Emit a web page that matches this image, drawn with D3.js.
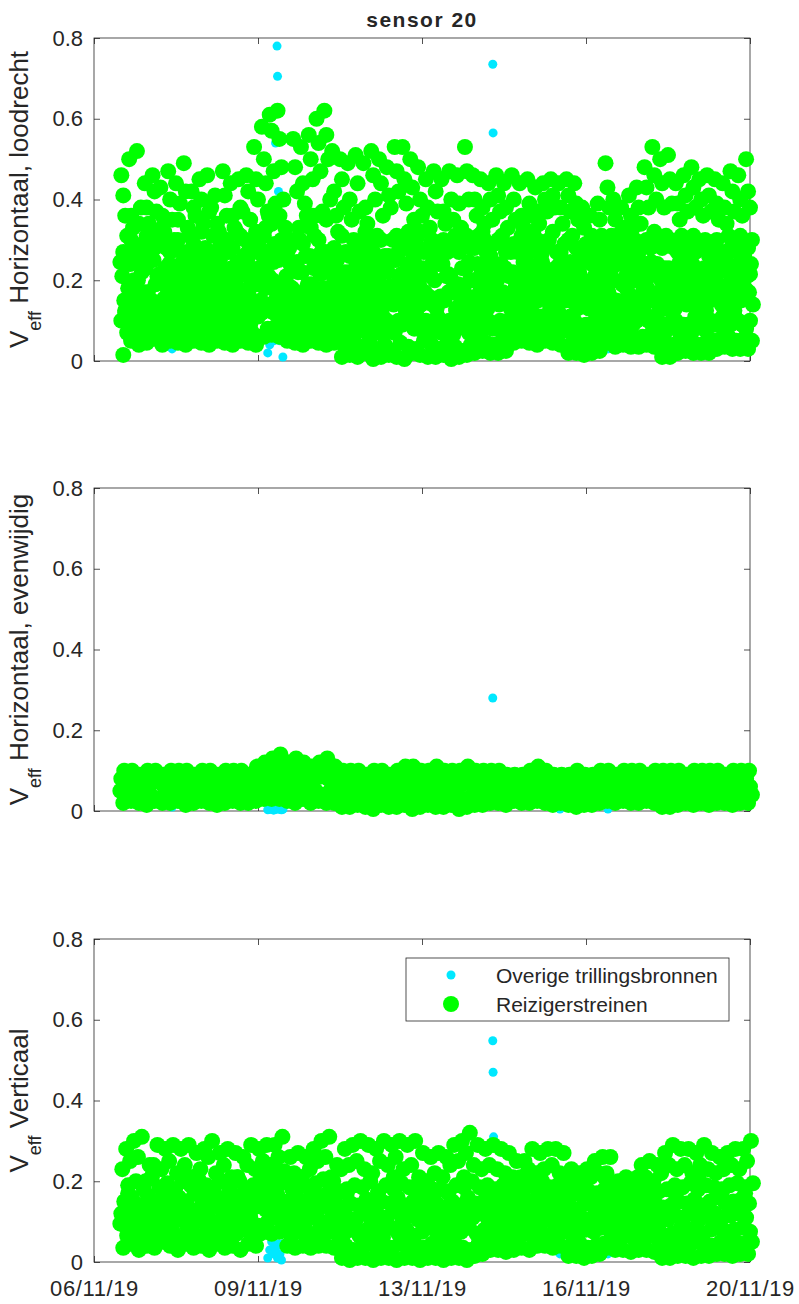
<!DOCTYPE html>
<html>
<head>
<meta charset="utf-8">
<script src="https://cdn.jsdelivr.net/npm/d3@7"></script>
<style>
  body { margin: 0; background: #fff; }
  text { font-family: "Liberation Sans", Arial, sans-serif; fill: #262626; }
</style>
</head>
<body>
<div id="chart"></div>
<script>
// x-as: 06/11/19 t/m 20/11/19, ticks om de 3,5 dag
const xStart = "2019-11-06 00:00";
const xEnd = "2019-11-20 00:00";
const xTicks = ["2019-11-06 00:00", "2019-11-09 12:00", "2019-11-13 00:00", "2019-11-16 12:00", "2019-11-20 00:00"];
const yTicks = [0, 0.2, 0.4, 0.6, 0.8];

// reizigerstreinen: per reeks een passage per blok van 4 uur, vanaf 06/11 15:00 (81 blokken)
const firstSample = "2019-11-06 15:00";
const sampleStepHours = 4;
const sampleCount = 81;

// Horizontaal, loodrecht (van laag naar hoog)
const loodrecht01 = [
  .015,.05,.04,.045,.055,.04,.05,.045,.04,.05,
  .045,.04,.05,.045,.04,.05,.045,.04,.06,.065,
  .06,.05,.045,.04,.05,.045,.04,.045,.01,.015,
  .01,.02,.005,.01,.015,.01,.005,.02,.015,.01,
  .01,.015,.005,.01,.015,.02,.025,.02,.02,.025,
  .045,.05,.045,.04,.05,.045,.04,.02,.02,.015,
  .02,.025,.045,.035,.04,.035,.035,.04,.035,.01,
  .01,.02,.025,.02,.02,.02,.03,.035,.03,.03,
  .03];
const loodrecht02 = [
  .07,.06,.08,.065,.07,.08,.06,.075,.07,.065,
  .08,.06,.07,.075,.065,.08,.07,.06,.08,.085,
  .08,.07,.065,.075,.08,.07,.065,.075,.03,.045,
  .035,.05,.03,.04,.025,.045,.035,.03,.05,.04,
  .03,.045,.035,.025,.04,.05,.045,.04,.05,.045,
  .07,.065,.075,.07,.065,.07,.075,.045,.04,.05,
  .045,.05,.07,.06,.065,.055,.06,.065,.06,.035,
  .04,.045,.05,.04,.045,.05,.055,.06,.05,.055,
  .05];
const loodrecht03 = [
  .10,.12,.09,.11,.13,.10,.12,.09,.11,.12,
  .09,.11,.13,.10,.12,.09,.11,.13,.12,.14,
  .13,.10,.12,.11,.13,.10,.12,.11,.08,.10,
  .07,.09,.11,.08,.10,.07,.09,.11,.08,.10,
  .09,.07,.10,.08,.11,.09,.07,.10,.08,.09,
  .11,.09,.12,.10,.11,.09,.12,.08,.10,.07,
  .09,.08,.11,.10,.09,.11,.10,.12,.09,.07,
  .08,.10,.09,.07,.10,.08,.09,.11,.09,.10,
  .08];
const loodrecht04 = [
  .12,.09,.11,.13,.10,.12,.09,.11,.13,.10,
  .12,.10,.09,.12,.10,.13,.09,.11,.14,.12,
  .11,.13,.10,.12,.09,.12,.10,.13,.11,.08,
  .10,.07,.09,.11,.08,.10,.12,.08,.10,.07,
  .11,.09,.08,.10,.07,.09,.11,.08,.10,.07,
  .09,.12,.10,.11,.09,.12,.10,.11,.07,.09,
  .08,.10,.09,.12,.10,.09,.12,.10,.11,.09,
  .10,.07,.09,.11,.08,.10,.09,.08,.11,.09,
  .10];
const loodrecht05 = [
  .15,.18,.14,.17,.19,.15,.17,.14,.18,.16,
  .14,.17,.19,.15,.18,.14,.16,.19,.18,.20,
  .19,.15,.17,.16,.19,.14,.18,.16,.13,.15,
  .17,.14,.16,.13,.18,.15,.13,.17,.14,.16,
  .13,.15,.17,.14,.16,.13,.15,.17,.14,.16,
  .16,.14,.18,.15,.17,.14,.18,.15,.13,.16,
  .14,.13,.17,.15,.14,.16,.15,.18,.16,.13,
  .15,.17,.14,.16,.13,.15,.17,.14,.16,.15,
  .17];
const loodrecht06 = [
  .18,.14,.17,.15,.13,.18,.15,.17,.14,.19,
  .17,.15,.14,.18,.15,.17,.19,.15,.21,.17,
  .16,.18,.14,.19,.16,.18,.15,.19,.16,.13,
  .14,.17,.13,.16,.14,.17,.16,.13,.17,.14,
  .16,.17,.13,.16,.14,.17,.13,.15,.17,.13,
  .14,.17,.15,.18,.14,.16,.15,.17,.16,.13,
  .17,.15,.14,.13,.17,.14,.18,.15,.17,.16,
  .13,.15,.17,.14,.17,.16,.14,.17,.15,.18,
  .14];
const loodrecht07 = [
  .21,.24,.20,.23,.25,.21,.24,.20,.23,.22,
  .20,.24,.22,.19,.23,.21,.25,.22,.26,.27,
  .25,.21,.24,.22,.26,.23,.27,.21,.19,.22,
  .24,.20,.23,.19,.22,.25,.20,.23,.19,.22,
  .20,.24,.21,.19,.23,.20,.22,.24,.20,.23,
  .22,.19,.24,.21,.23,.20,.24,.21,.19,.20,
  .19,.21,.23,.20,.19,.22,.21,.24,.22,.20,
  .23,.20,.22,.24,.19,.22,.21,.23,.20,.24,
  .21];
const loodrecht08 = [
  .24,.20,.22,.25,.21,.23,.19,.24,.21,.25,
  .23,.20,.25,.22,.19,.24,.21,.23,.24,.29,
  .28,.24,.22,.26,.23,.27,.24,.25,.22,.20,
  .21,.24,.19,.23,.25,.21,.24,.20,.23,.21,
  .24,.21,.19,.23,.20,.24,.19,.22,.24,.21,
  .20,.23,.21,.24,.20,.23,.21,.24,.22,.19,
  .21,.20,.22,.24,.21,.20,.23,.21,.24,.23,
  .21,.24,.20,.22,.23,.20,.24,.22,.23,.21,
  .24];
const loodrecht09 = [
  .27,.30,.26,.31,.28,.33,.27,.30,.25,.29,
  .32,.27,.25,.30,.28,.31,.27,.32,.31,.34,
  .36,.27,.30,.29,.33,.30,.35,.28,.31,.26,
  .29,.32,.27,.30,.26,.31,.29,.27,.32,.28,
  .26,.30,.28,.27,.31,.28,.32,.26,.30,.27,
  .29,.31,.27,.30,.28,.32,.27,.30,.28,.25,
  .24,.27,.29,.26,.25,.28,.27,.30,.32,.28,
  .30,.27,.29,.31,.28,.26,.30,.27,.29,.31,
  .28];
const loodrecht10 = [
  .31,.27,.29,.26,.32,.28,.30,.27,.31,.26,
  .28,.31,.29,.27,.32,.26,.30,.28,.37,.39,
  .40,.30,.33,.36,.31,.37,.40,.32,.27,.30,
  .27,.29,.31,.26,.30,.28,.32,.30,.27,.30,
  .29,.27,.31,.30,.28,.31,.27,.29,.31,.28,
  .27,.29,.32,.26,.30,.27,.29,.31,.26,.28,
  .27,.25,.31,.28,.27,.30,.29,.28,.30,.31,
  .28,.31,.27,.29,.30,.28,.27,.31,.28,.26,
  .30];
const loodrecht11 = [
  .36,.33,.38,.34,.37,.32,.35,.39,.33,.36,
  .34,.38,.32,.36,.33,.37,.35,.40,.44,.47,
  .48,.28,.42,.39,.45,.47,.50,.36,.38,.35,
  .37,.34,.40,.36,.38,.42,.39,.35,.36,.33,
  .37,.34,.35,.33,.40,.36,.34,.35,.37,.33,
  .35,.33,.36,.34,.37,.38,.34,.37,.35,.29,
  .28,.31,.38,.31,.30,.33,.34,.38,.40,.38,
  .39,.35,.37,.38,.36,.37,.35,.34,.37,.36,
  .38];
const loodrecht12 = [
  .41,.36,.34,.38,.42,.36,.40,.35,.42,.38,
  .40,.37,.34,.41,.36,.38,.42,.45,.50,.57,
  .55,.30,.48,.44,.50,.54,.56,.42,.45,.40,
  .44,.38,.46,.44,.41,.47,.45,.43,.40,.38,
  .42,.37,.40,.39,.47,.40,.38,.40,.41,.38,
  .40,.36,.39,.37,.40,.41,.38,.41,.39,.33,
  .31,.35,.43,.35,.33,.36,.38,.43,.46,.44,
  .45,.39,.41,.43,.40,.41,.39,.38,.42,.40,
  .42];
const loodrecht13 = [
  .46,.50,.52,.44,.46,.43,.47,.44,.49,.42,
  .45,.46,.41,.47,.44,.45,.46,.53,.58,.61,
  .62,.33,.55,.53,.56,.60,.62,.52,.50,.49,
  .51,.49,.52,.50,.48,.53,.53,.50,.48,.45,
  .47,.45,.47,.46,.53,.46,.45,.44,.46,.44,
  .46,.44,.45,.43,.44,.45,.44,.45,.44,.38,
  .36,.39,.49,.40,.38,.41,.43,.48,.53,.50,
  .51,.44,.46,.48,.45,.46,.45,.44,.47,.46,
  .50];
const loodrecht14 = [
  .125,.185,.245,.09,.30,.155,.215,.125,.27,.185,
  .245,.09,.155,.30,.215,.125,.185,.27,.33,.245,
  .30,.185,.245,.09,.36,.215,.155,.27,.065,.185,
  .245,.125,.215,.065,.185,.27,.125,.245,.09,.215,
  .155,.27,.065,.185,.245,.125,.30,.09,.215,.155,
  .185,.245,.125,.27,.09,.215,.155,.245,.065,.185,
  .125,.215,.27,.09,.185,.245,.155,.30,.215,.065,
  .125,.245,.185,.27,.09,.215,.155,.245,.125,.185,
  .215];
const loodrecht15 = [
  .245,.09,.155,.27,.125,.215,.30,.185,.09,.245,
  .125,.215,.27,.155,.09,.245,.30,.125,.215,.36,
  .155,.27,.09,.30,.185,.36,.245,.125,.215,.09,
  .125,.185,.065,.245,.155,.09,.215,.185,.27,.065,
  .245,.09,.215,.125,.185,.065,.155,.245,.185,.09,
  .27,.125,.215,.155,.245,.125,.185,.09,.215,.27,
  .09,.155,.185,.245,.125,.09,.215,.155,.245,.125,
  .185,.09,.27,.155,.215,.125,.245,.185,.09,.27,
  .155];

// Horizontaal, evenwijdig
const evenwijdig01 = [
  .02,.025,.02,.015,.025,.02,.02,.025,.015,.02,
  .025,.02,.015,.02,.025,.02,.02,.025,.03,.03,
  .03,.025,.02,.03,.02,.025,.02,.02,.01,.01,
  .015,.01,.005,.015,.01,.01,.015,.005,.01,.015,
  .01,.01,.015,.005,.01,.015,.015,.02,.02,.015,
  .025,.02,.02,.025,.02,.015,.02,.015,.01,.015,
  .015,.02,.025,.02,.025,.02,.02,.025,.02,.01,
  .01,.015,.02,.015,.02,.015,.02,.02,.015,.02,
  .02];
const evenwijdig02 = [
  .04,.035,.05,.04,.03,.045,.04,.035,.05,.04,
  .035,.045,.04,.03,.045,.04,.035,.05,.055,.06,
  .06,.05,.055,.045,.05,.04,.05,.045,.03,.035,
  .03,.04,.025,.035,.03,.04,.035,.03,.04,.035,
  .03,.035,.04,.03,.035,.04,.03,.035,.04,.035,
  .045,.04,.035,.045,.04,.035,.04,.035,.03,.04,
  .035,.04,.045,.04,.035,.045,.04,.035,.04,.03,
  .035,.04,.03,.04,.035,.04,.045,.035,.04,.035,
  .04];
const evenwijdig03 = [
  .06,.07,.055,.065,.075,.06,.07,.055,.065,.07,
  .06,.055,.07,.065,.06,.075,.055,.07,.08,.09,
  .095,.08,.085,.08,.075,.085,.08,.07,.06,.055,
  .065,.06,.07,.055,.06,.065,.07,.06,.055,.065,
  .07,.06,.055,.065,.07,.06,.065,.055,.06,.065,
  .055,.06,.065,.07,.06,.055,.06,.065,.055,.06,
  .06,.065,.07,.06,.065,.06,.07,.065,.06,.055,
  .065,.06,.055,.065,.07,.06,.065,.06,.055,.065,
  .06];
const evenwijdig04 = [
  .08,.085,.075,.09,.08,.075,.085,.08,.09,.075,
  .085,.08,.075,.09,.085,.08,.075,.095,.10,.11,
  .12,.10,.11,.105,.095,.10,.11,.09,.08,.085,
  .08,.075,.085,.08,.075,.085,.09,.085,.08,.08,
  .09,.085,.08,.08,.09,.085,.08,.08,.085,.075,
  .075,.08,.085,.09,.08,.075,.08,.075,.085,.075,
  .08,.085,.08,.075,.085,.08,.085,.075,.08,.085,
  .08,.085,.075,.08,.085,.08,.085,.08,.075,.085,
  .08];
const evenwijdig05 = [
  .10,.10,.09,.10,.10,.09,.10,.10,.10,.09,
  .10,.10,.09,.10,.10,.10,.09,.11,.12,.13,
  .14,.12,.13,.12,.11,.12,.13,.11,.10,.10,
  .10,.09,.10,.10,.09,.10,.11,.11,.10,.10,
  .11,.10,.10,.10,.11,.10,.10,.10,.10,.09,
  .09,.09,.10,.11,.10,.09,.09,.09,.10,.09,
  .09,.10,.10,.09,.10,.10,.10,.09,.10,.10,
  .10,.10,.09,.10,.10,.10,.10,.09,.10,.10,
  .10];
const evenwijdig06 = [
  .05,.07,.03,.05,.07,.03,.07,.05,.03,.07,
  .05,.03,.07,.05,.03,.07,.05,.07,.09,.07,
  .10,.07,.09,.05,.07,.05,.09,.05,.03,.05,
  .07,.03,.05,.07,.03,.05,.03,.07,.05,.03,
  .05,.07,.03,.05,.07,.03,.05,.07,.03,.05,
  .07,.03,.05,.07,.05,.03,.07,.05,.03,.05,
  .07,.05,.03,.07,.05,.03,.05,.07,.03,.05,
  .07,.03,.05,.07,.03,.05,.07,.05,.03,.07,
  .05];

// Verticaal
const verticaal01 = [
  .035,.045,.03,.04,.035,.05,.04,.03,.045,.035,
  .04,.03,.045,.035,.04,.03,.045,.04,.075,.07,
  .075,.04,.035,.04,.035,.04,.04,.035,.01,.005,
  .01,.01,.005,.01,.01,.005,.01,.01,.005,.01,
  .01,.005,.01,.01,.005,.015,.02,.03,.03,.025,
  .03,.035,.03,.04,.04,.035,.04,.015,.015,.01,
  .015,.02,.035,.03,.03,.025,.03,.03,.025,.01,
  .01,.015,.015,.01,.015,.015,.02,.02,.015,.02,
  .02];
const verticaal02 = [
  .065,.075,.06,.07,.08,.065,.07,.06,.075,.065,
  .07,.06,.075,.065,.07,.08,.06,.07,.10,.11,
  .10,.065,.075,.06,.07,.065,.075,.07,.04,.03,
  .035,.045,.03,.04,.035,.045,.03,.04,.035,.045,
  .04,.03,.045,.035,.03,.045,.05,.055,.06,.05,
  .065,.07,.06,.075,.065,.07,.075,.04,.045,.035,
  .04,.045,.07,.06,.065,.055,.06,.065,.055,.035,
  .04,.045,.04,.05,.045,.04,.05,.045,.05,.045,
  .05];
const verticaal03 = [
  .09,.11,.085,.10,.095,.11,.09,.105,.085,.10,
  .11,.09,.10,.085,.105,.095,.11,.09,.13,.14,
  .135,.09,.105,.095,.11,.085,.10,.11,.07,.08,
  .065,.08,.075,.06,.085,.07,.08,.065,.075,.085,
  .07,.08,.065,.075,.085,.07,.08,.085,.09,.08,
  .095,.11,.09,.10,.105,.09,.11,.075,.07,.08,
  .075,.085,.10,.09,.095,.085,.09,.10,.085,.065,
  .07,.08,.075,.085,.07,.08,.085,.075,.08,.085,
  .075];
const verticaal04 = [
  .12,.13,.11,.14,.12,.13,.115,.135,.12,.125,
  .13,.115,.14,.12,.125,.13,.11,.135,.16,.17,
  .165,.12,.135,.125,.13,.115,.14,.12,.10,.11,
  .105,.12,.10,.115,.11,.125,.10,.115,.105,.12,
  .11,.10,.12,.105,.115,.11,.12,.105,.115,.11,
  .125,.135,.12,.13,.125,.12,.135,.105,.10,.11,
  .105,.115,.13,.12,.125,.115,.12,.13,.115,.10,
  .105,.115,.11,.12,.105,.115,.12,.11,.115,.12,
  .11];
const verticaal05 = [
  .15,.16,.14,.165,.15,.155,.145,.16,.15,.17,
  .155,.145,.16,.15,.165,.14,.155,.16,.19,.20,
  .195,.15,.165,.15,.16,.145,.17,.15,.135,.145,
  .14,.155,.135,.15,.145,.16,.14,.15,.135,.155,
  .145,.135,.15,.14,.16,.145,.15,.14,.155,.145,
  .155,.16,.15,.165,.155,.15,.16,.14,.13,.145,
  .14,.15,.16,.145,.155,.14,.15,.16,.145,.135,
  .14,.15,.145,.155,.14,.15,.16,.145,.15,.155,
  .145];
const verticaal06 = [
  .19,.20,.18,.21,.185,.195,.18,.20,.19,.205,
  .19,.185,.20,.18,.21,.175,.19,.20,.22,.23,
  .225,.18,.20,.185,.195,.205,.21,.175,.18,.19,
  .185,.20,.175,.19,.18,.195,.185,.19,.175,.18,
  .18,.175,.19,.185,.20,.185,.19,.18,.19,.185,
  .18,.185,.19,.20,.185,.19,.195,.17,.165,.175,
  .17,.18,.19,.165,.175,.165,.18,.185,.175,.18,
  .19,.185,.195,.18,.19,.185,.18,.19,.195,.185,
  .195];
const verticaal07 = [
  .23,.25,.26,.20,.24,.23,.25,.22,.24,.21,
  .23,.26,.22,.24,.21,.20,.24,.23,.25,.24,
  .26,.21,.22,.21,.23,.25,.26,.20,.23,.24,
  .25,.23,.22,.25,.24,.26,.23,.24,.21,.20,
  .22,.21,.24,.25,.27,.24,.23,.24,.23,.22,
  .21,.21,.23,.22,.23,.24,.22,.20,.19,.20,
  .21,.22,.22,.18,.19,.18,.21,.21,.20,.22,
  .24,.23,.24,.22,.24,.23,.22,.23,.24,.23,
  .25];
const verticaal08 = [
  .28,.30,.31,.24,.29,.28,.29,.28,.29,.27,
  .28,.30,.27,.28,.27,.26,.29,.28,.29,.29,
  .31,.26,.27,.26,.28,.30,.31,.24,.28,.29,
  .30,.29,.28,.30,.29,.30,.29,.30,.27,.26,
  .27,.26,.29,.30,.32,.29,.28,.29,.28,.27,
  .25,.25,.28,.27,.28,.28,.27,.23,.22,.23,
  .25,.26,.26,.20,.21,.20,.24,.25,.24,.27,
  .29,.28,.28,.27,.29,.27,.26,.27,.28,.28,
  .30];
const verticaal09 = [
  .095,.17,.05,.13,.21,.095,.17,.13,.05,.21,
  .13,.095,.17,.05,.13,.21,.095,.17,.21,.13,
  .17,.095,.13,.21,.05,.17,.095,.13,.05,.17,
  .095,.13,.05,.17,.095,.21,.13,.05,.17,.095,
  .13,.05,.17,.095,.21,.13,.05,.17,.095,.13,
  .17,.095,.21,.13,.05,.17,.095,.13,.05,.17,
  .095,.13,.21,.05,.17,.095,.13,.05,.17,.095,
  .13,.17,.095,.05,.21,.13,.095,.17,.05,.13,
  .17];

// tijdsverschuiving (uren) van elke reeks binnen een blok
const loodrechtShift = [0, 2, -1, 1, 0.5, 2.5, -0.5, 1.5, 0, 2, 1, 0, -1, 1, -1.5];
const evenwijdigShift = [0, 2, 1, -1, 0.5, -1.5];
const verticaalShift = [0, 2, 1, -1, 0.5, 2.5, -0.5, 1.5, -1.5];

// overige trillingsbronnen
const overigeTijden = [
  "2019-11-07 16:00", "2019-11-09 17:00", "2019-11-09 18:00", "2019-11-09 19:00",
  "2019-11-09 20:00", "2019-11-09 21:00", "2019-11-09 21:45", "2019-11-09 22:00",
  "2019-11-09 22:30", "2019-11-09 23:15", "2019-11-10 00:00", "2019-11-10 00:45",
  "2019-11-14 12:15", "2019-11-14 12:25", "2019-11-14 12:40", "2019-11-15 22:40",
  "2019-11-16 23:15"];
const overigeLoodrecht = [.03, .02, .04, .28, .05, .54, .78, .705, .42, .05, .14, .01, .735, .565, .46, .10, .03];
const overigeEvenwijdig = [.01, .003, .004, .005, .002, .004, .01, .005, .006, .004, .003, .004, .28, .03, .02, .005, .005];
const overigeVerticaal = [.05, .01, .03, .05, .02, .035, .04, .01, .045, .02, .005, .045, .548, .47, .31, .02, .02];

const width = 799, height = 1304;
const left = 94, right = 750, panelHeight = 323;
const green = "#00ff00", cyan = "#00e8ff", axisColor = "#262626";

const svg = d3.select("#chart").append("svg")
    .attr("width", width)
    .attr("height", height);

svg.append("rect").attr("width", width).attr("height", height).attr("fill", "#fff");

const parse = d3.timeParse("%Y-%m-%d %H:%M");

const x = d3.scaleTime()
    .domain([parse(xStart), parse(xEnd)])
    .range([left, right]);

const sampleTimes = d3.range(sampleCount)
    .map(i => d3.timeHour.offset(parse(firstSample), i * sampleStepHours));

function toPoints(layers, shifts) {
    const pts = [];
    layers.forEach((vals, k) => {
        vals.forEach((v, i) => {
            pts.push({t: d3.timeMinute.offset(sampleTimes[i], shifts[k] * 60), v: v});
        });
    });
    return pts;
}

const panels = [
    {top: 38, label: "Horizontaal, loodrecht",
     groen: toPoints([loodrecht01, loodrecht02, loodrecht03, loodrecht04, loodrecht05, loodrecht06, loodrecht07,
                      loodrecht08, loodrecht09, loodrecht10, loodrecht11, loodrecht12, loodrecht13,
                      loodrecht14, loodrecht15], loodrechtShift),
     overig: overigeLoodrecht},
    {top: 488, label: "Horizontaal, evenwijdig",
     groen: toPoints([evenwijdig01, evenwijdig02, evenwijdig03, evenwijdig04, evenwijdig05, evenwijdig06],
                     evenwijdigShift),
     overig: overigeEvenwijdig},
    {top: 939, label: "Verticaal",
     groen: toPoints([verticaal01, verticaal02, verticaal03, verticaal04, verticaal05, verticaal06,
                      verticaal07, verticaal08, verticaal09], verticaalShift),
     overig: overigeVerticaal}
];

const yFormat = d => d === 0 ? "0" : d3.format(".1f")(d);

panels.forEach((p, idx) => {
    const y = d3.scaleLinear().domain([0, 0.8]).range([p.top + panelHeight, p.top]);
    const g = svg.append("g");
    const isLast = idx === panels.length - 1;

    // kader
    g.append("rect")
        .attr("x", left).attr("y", p.top)
        .attr("width", right - left).attr("height", panelHeight)
        .attr("fill", "none").attr("stroke", axisColor).attr("stroke-width", 0.8);

    const styleAxis = sel => {
        sel.select(".domain").remove();
        sel.selectAll("line").attr("stroke", axisColor).attr("stroke-width", 0.8);
        sel.selectAll("text").attr("fill", axisColor).style("font-size", "22px");
    };

    g.append("g").attr("transform", `translate(${left},0)`)
        .call(d3.axisLeft(y).tickValues(yTicks).tickSize(-6).tickPadding(11).tickFormat(yFormat))
        .call(styleAxis);
    g.append("g").attr("transform", `translate(${right},0)`)
        .call(d3.axisRight(y).tickValues(yTicks).tickSize(-6).tickFormat(""))
        .call(styleAxis);
    g.append("g").attr("transform", `translate(0,${p.top})`)
        .call(d3.axisTop(x).tickValues(xTicks.map(parse)).tickSize(-6).tickFormat(""))
        .call(styleAxis);
    g.append("g").attr("transform", `translate(0,${p.top + panelHeight})`)
        .call(d3.axisBottom(x).tickValues(xTicks.map(parse)).tickSize(-6).tickPadding(18)
            .tickFormat(isLast ? d3.timeFormat("%d/%m/%y") : ""))
        .call(styleAxis)
        .selectAll("text").style("letter-spacing", "0.6px");

    // y-label
    const cy = p.top + panelHeight / 2;
    const lab = g.append("text")
        .attr("transform", `translate(28,${cy}) rotate(-90)`)
        .attr("text-anchor", "middle")
        .style("font-size", "26px");
    lab.append("tspan").text("V");
    lab.append("tspan").attr("dy", 13).style("font-size", "18px").text("eff");
    lab.append("tspan").attr("dy", -13).text("\u00a0" + p.label);

    // overige trillingsbronnen
    g.append("g").selectAll("circle")
        .data(overigeTijden.map((t, i) => ({t: parse(t), v: p.overig[i]})))
        .join("circle")
        .attr("cx", d => x(d.t))
        .attr("cy", d => y(d.v))
        .attr("r", 4.5)
        .attr("fill", cyan);

    // reizigerstreinen
    g.append("g").selectAll("circle")
        .data(p.groen)
        .join("circle")
        .attr("cx", d => x(d.t))
        .attr("cy", d => y(d.v))
        .attr("r", 8)
        .attr("fill", green);
});

// titel
svg.append("text")
    .attr("x", (left + right) / 2).attr("y", 27)
    .attr("text-anchor", "middle")
    .style("font-size", "21px").style("font-weight", "bold").style("letter-spacing", "1.5px")
    .text("sensor 20");

// legenda
const legend = svg.append("g").attr("transform", "translate(406,958)");
legend.append("rect")
    .attr("width", 323).attr("height", 63)
    .attr("fill", "#fff").attr("stroke", axisColor).attr("stroke-width", 0.8);
const legendItems = [
    {label: "Overige trillingsbronnen", color: cyan, r: 4.5},
    {label: "Reizigerstreinen", color: green, r: 8}
];
legendItems.forEach((it, i) => {
    legend.append("circle").attr("cx", 45).attr("cy", 17 + i * 29).attr("r", it.r).attr("fill", it.color);
    legend.append("text").attr("x", 90).attr("y", 25 + i * 29)
        .style("font-size", "21px").text(it.label);
});
</script>
</body>
</html>
